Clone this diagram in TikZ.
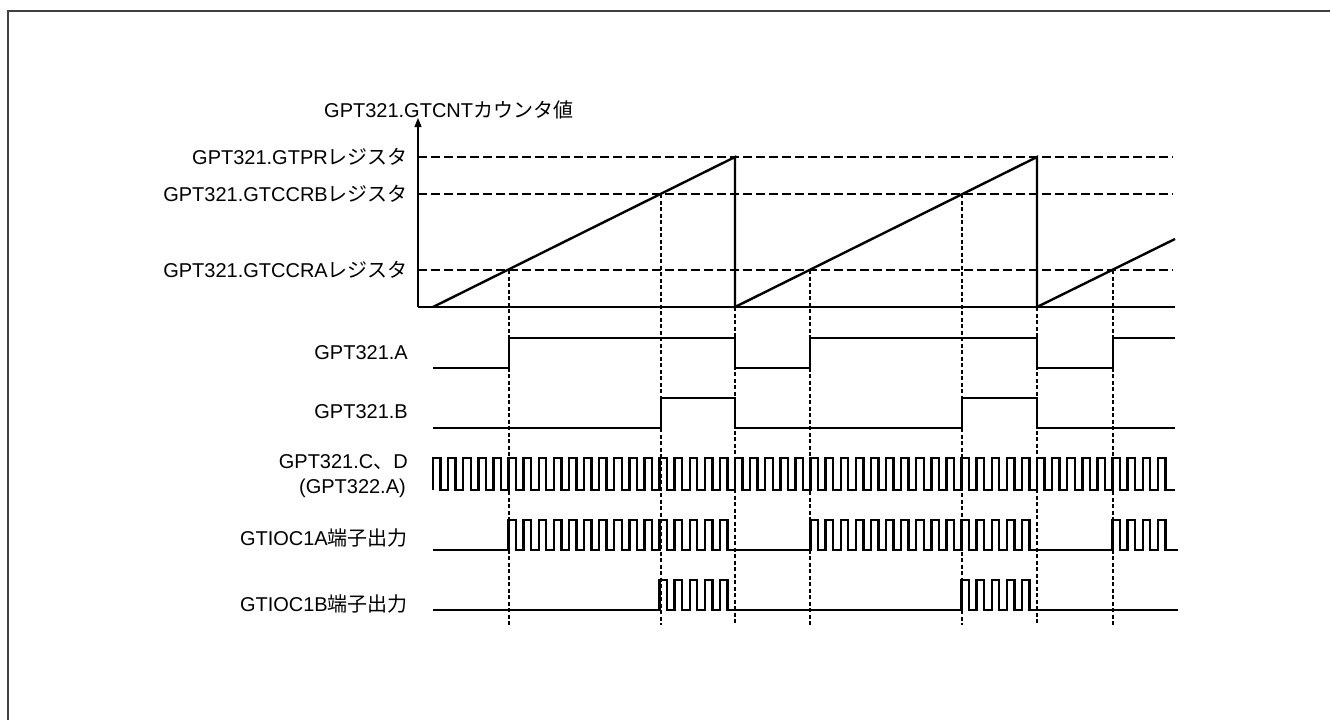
\documentclass[tikz,border=0pt]{standalone}
\usepackage{fontspec}
\setmainfont{Liberation Sans}
\newfontfamily\jp{Noto Sans CJK JP}
\usetikzlibrary{arrows.meta}
\begin{document}
\begin{tikzpicture}[x=1pt,y=-1pt,
  sig/.style={line width=2.4pt,line join=miter,line cap=butt},
  lvl/.style={line width=1.9pt,dash pattern=on 9pt off 4pt},
  guide/.style={line width=1.1pt,dash pattern=on 4pt off 2.5pt},
  lab/.style={anchor=east,inner sep=0pt,font=\fontsize{20}{24}\selectfont},
  every node/.style={inner sep=0pt}]
\useasboundingbox (0,0) rectangle (1330,720);
\draw[line width=2pt,draw=black!75,line cap=butt] (1330,11) -- (7.5,11) -- (7.5,720);
\def\xo{433}
\def\pdx{15.1}
% axes
\draw[line width=1.2pt,-{Triangle[width=7pt,length=9pt]}] (418,307) -- (418,118);
\draw[line width=1.2pt] (418,307) -- (1175,307);
% level lines
\draw[lvl] (418,157) -- (1173,157);
\draw[lvl] (418,194) -- (1173,194);
\draw[lvl] (418,270) -- (1173,270);
% guides
\foreach \gx/\gy in {509/270,661/194,735/307,810/270,962/194,1037/307,1113/270}
  \draw[guide] (\gx,\gy) -- (\gx,625);
% sawtooth
\draw[sig] (433,307) -- (735,157) -- (735,307) -- (1037,157) -- (1037,307) -- (1175,239);
% labels
\node[anchor=west,font=\fontsize{20}{24}\selectfont] (cnt) at (324,110) {GPT321.GTCNT{\jp カウンタ値}};
\node[lab] (pr) at (408,157) {GPT321.GTPR{\jp レジスタ}};
\node[lab] (crb) at (408,194) {GPT321.GTCCRB{\jp レジスタ}};
\node[lab] (cra) at (408,270) {GPT321.GTCCRA{\jp レジスタ}};
\node[lab] (la) at (408,353) {GPT321.A};
\node[lab] (lb) at (408,412) {GPT321.B};
\node[lab] (lc) at (408,462) {GPT321.C{\jp 、}D};
\node[lab] (lc2) at (406,488) {(GPT322.A)};
\node[lab] (l1a) at (408,538) {GTIOC1A{\jp 端子出力}};
\node[lab] (l1b) at (408,604) {GTIOC1B{\jp 端子出力}};
% GPT321.A
\draw[sig] (433,368) -- (509,368) -- (509,338) -- (735,338) -- (735,368) -- (810,368) -- (810,338) -- (1037,338) -- (1037,368) -- (1113,368) -- (1113,338) -- (1175,338);
% GPT321.B
\draw[sig] (433,428) -- (661,428) -- (661,398) -- (735,398) -- (735,428) -- (962,428) -- (962,398) -- (1037,398) -- (1037,428) -- (1175,428);
% clock
\draw[sig] (\xo,490) \foreach \k in {0,...,48}{ -- ({\xo+\k*\pdx},458) -- ({\xo+\k*\pdx+\pdx/2},458) -- ({\xo+\k*\pdx+\pdx/2},490) -- ({\xo+(\k+1)*\pdx},490) } -- (1175,490);
% GTIOC1A
\draw[sig] (433,550)
  \foreach \k in {5,...,19}{ -- ({\xo+\k*\pdx},550) -- ({\xo+\k*\pdx},520) -- ({\xo+\k*\pdx+\pdx/2},520) -- ({\xo+\k*\pdx+\pdx/2},550) }
  \foreach \k in {25,...,39}{ -- ({\xo+\k*\pdx},550) -- ({\xo+\k*\pdx},520) -- ({\xo+\k*\pdx+\pdx/2},520) -- ({\xo+\k*\pdx+\pdx/2},550) }
  \foreach \k in {45,...,48}{ -- ({\xo+\k*\pdx},550) -- ({\xo+\k*\pdx},520) -- ({\xo+\k*\pdx+\pdx/2},520) -- ({\xo+\k*\pdx+\pdx/2},550) }
  -- (1178,550);
% GTIOC1B
\draw[sig] (433,610)
  \foreach \k in {15,...,19}{ -- ({\xo+\k*\pdx},610) -- ({\xo+\k*\pdx},580) -- ({\xo+\k*\pdx+\pdx/2},580) -- ({\xo+\k*\pdx+\pdx/2},610) }
  \foreach \k in {35,...,39}{ -- ({\xo+\k*\pdx},610) -- ({\xo+\k*\pdx},580) -- ({\xo+\k*\pdx+\pdx/2},580) -- ({\xo+\k*\pdx+\pdx/2},610) }
  -- (1178,610);
\end{tikzpicture}
\end{document}
